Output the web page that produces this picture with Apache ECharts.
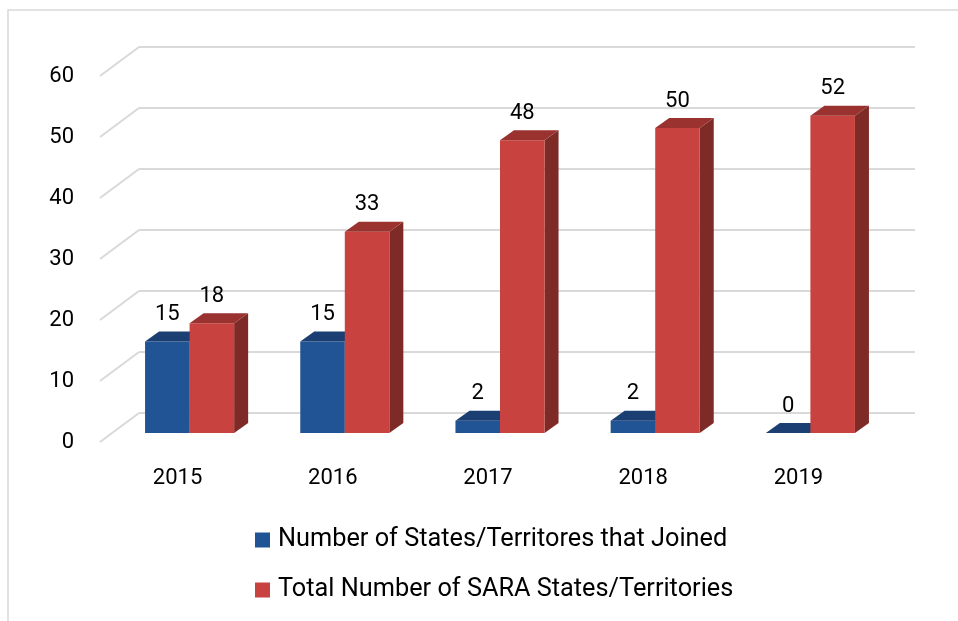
<!DOCTYPE html>
<html>
<head>
<meta charset="utf-8">
<script src="https://cdn.jsdelivr.net/npm/echarts@6/dist/echarts.min.js"></script>
<style>html,body{margin:0;padding:0;background:#fff;}#c{width:958px;height:621px;}</style>
</head>
<body>
<div id="c"></div>
<script>
const categories = ['2015', '2016', '2017', '2018', '2019'];
const joined = [15, 15, 2, 2, 0];
const total = [18, 33, 48, 50, 52];
const yTicks = [0, 10, 20, 30, 40, 50, 60];
const seriesNames = ['Number of States/Territores that Joined', 'Total Number of SARA States/Territories'];

const FONT = 'Roboto';
const DEPTH = [39, -29];      // full floor depth
const BAR_FRONT = [12, -9];   // bar front plane offset
const BAR_DEPTH = [14, -10];  // bar thickness
const BAR_FRAC = 0.287;

const palette = [
  { front: '#215494', top: '#1b3e73', side: '#183766' },
  { front: '#c8433f', top: '#9a322f', side: '#7e2b28' }
];

function barRenderer(si) {
  return function (params, api) {
    const idx = api.value(0);
    const v = api.value(1);
    const top = api.coord([idx, v]);
    const base = api.coord([idx, 0]);
    const band = api.size([1, 0])[0];
    const w = band * BAR_FRAC;
    const x0 = (si === 0 ? top[0] - w : top[0]) + BAR_FRONT[0];
    const yt = top[1] + BAR_FRONT[1];
    const yb = base[1] + BAR_FRONT[1];
    const dx = BAR_DEPTH[0], dy = BAR_DEPTH[1];
    const c = palette[si];
    return {
      type: 'group',
      children: [
        { type: 'polygon', shape: { points: [[x0 + w, yt], [x0 + w + dx, yt + dy], [x0 + w + dx, yb + dy], [x0 + w, yb]] }, style: { fill: c.side } },
        { type: 'rect', shape: { x: x0, y: yt, width: w, height: yb - yt }, style: { fill: c.front } },
        { type: 'polygon', shape: { points: [[x0, yt], [x0 + w, yt], [x0 + w + dx, yt + dy], [x0 + dx, yt + dy]] }, style: { fill: c.top } },
        { type: 'text', x: x0 + w / 2, y: yt - 27, style: { text: String(v), fill: '#000', font: '22px ' + FONT, align: 'center', verticalAlign: 'middle' } }
      ]
    };
  };
}

const option = {
  animation: false,
  backgroundColor: '#fff',
  graphic: [
    { type: 'rect', shape: { x: 8, y: 10, width: 1000, height: 700 }, style: { fill: 'none', stroke: '#d9d9d9', lineWidth: 1.5 }, silent: true }
  ],
  grid: [
    { left: 100, right: 82, top: 76, bottom: 179 },
    { left: 139, right: 43, top: 47, bottom: 208 }
  ],
  xAxis: [
    { type: 'category', gridIndex: 0, data: categories, axisLine: { show: false }, axisTick: { show: false },
      axisLabel: { color: '#000', fontFamily: FONT, fontSize: 22, margin: 25 }, splitLine: { show: false } },
    { type: 'category', gridIndex: 1, data: categories, show: false }
  ],
  yAxis: [
    { type: 'value', gridIndex: 0, min: 0, max: 60, interval: 10, axisLine: { show: false }, axisTick: { show: false },
      axisLabel: { color: '#000', fontFamily: FONT, fontSize: 22, margin: 26 }, splitLine: { show: false } },
    { type: 'value', gridIndex: 1, min: 0, max: 60, interval: 10, axisLine: { show: false }, axisTick: { show: false },
      axisLabel: { show: false }, splitLine: { show: true, lineStyle: { color: '#d9d9d9', width: 2 } } }
  ],
  legend: {
    orient: 'vertical', left: 250, top: 521, itemWidth: 15, itemHeight: 15, itemGap: 22, icon: 'rect',
    data: seriesNames,
    textStyle: { color: '#000', fontFamily: FONT, fontSize: 25.3, lineHeight: 28, padding: [0, 0, 0, 3] }
  },
  series: [
    {
      type: 'custom', name: 'diag', xAxisIndex: 0, yAxisIndex: 0, clip: false, silent: true, z: 1,
      data: yTicks.map(v => [0, v]),
      renderItem: function (params, api) {
        const y = api.coord([0, api.value(1)])[1];
        const x = params.coordSys.x;
        return { type: 'line', shape: { x1: x, y1: y, x2: x + DEPTH[0], y2: y + DEPTH[1] }, style: { stroke: '#d9d9d9', lineWidth: 2 } };
      }
    },
    {
      type: 'custom', name: seriesNames[0], xAxisIndex: 0, yAxisIndex: 0, clip: false, z: 3,
      itemStyle: { color: palette[0].front },
      data: joined.map((v, i) => [i, v]),
      renderItem: barRenderer(0)
    },
    {
      type: 'custom', name: seriesNames[1], xAxisIndex: 0, yAxisIndex: 0, clip: false, z: 4,
      itemStyle: { color: palette[1].front },
      data: total.map((v, i) => [i, v]),
      renderItem: barRenderer(1)
    }
  ]
};

const chart = echarts.init(document.getElementById('c'), null, { renderer: 'canvas' });
chart.setOption(option);
</script>
</body>
</html>
